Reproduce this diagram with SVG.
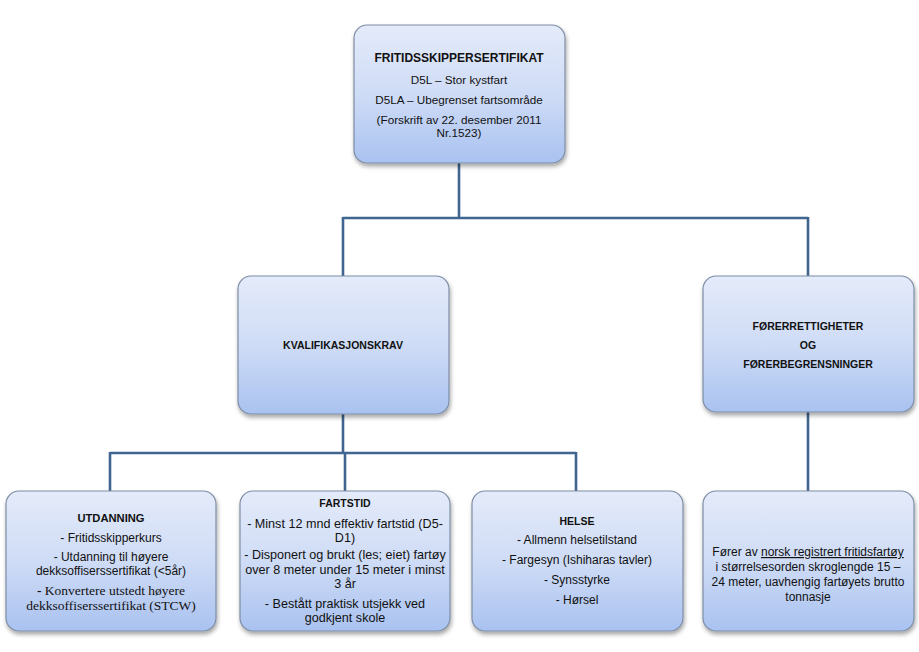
<svg xmlns="http://www.w3.org/2000/svg" width="919" height="652" viewBox="0 0 919 652">
<style>
.box{fill:url(#g);stroke:#7d8da6;stroke-width:1.2;filter:url(#sh)}
.t{font-family:"Liberation Sans",Arial,sans-serif;font-size:12px;fill:#111;text-anchor:middle}
.b{font-weight:bold;font-size:10.5px}
.s{font-family:"Liberation Serif","Times New Roman",serif;font-size:13.5px}
.f{font-size:12.6px}
.c{fill:none;stroke:#3f6590;stroke-width:2.6}
</style>
<defs>
<linearGradient id="g" x1="0" y1="0" x2="0" y2="1">
<stop offset="0" stop-color="#e4ebfa"/>
<stop offset="0.5" stop-color="#cfdcf6"/>
<stop offset="1" stop-color="#a9c2f0"/>
</linearGradient>
<filter id="sh" x="-10%" y="-10%" width="125%" height="130%">
<feDropShadow dx="1" dy="3" stdDeviation="2.2" flood-color="#000" flood-opacity="0.35"/>
</filter>
</defs>
<g id="connectors">
<path class="c" d="M459 163 V218 M343 218 H808 M343 217 V276 M808 217 V276"/>
<path class="c" d="M343 414 V453 M110 453 H576 M110 452 V491 M345 452 V491 M576 452 V491"/>
<path class="c" d="M808 412 V491"/>
</g>
<g id="top">
<rect class="box" x="354" y="25" width="211" height="138" rx="13"/>
<text class="t b" x="459" y="62" style="font-size:12px">FRITIDSSKIPPERSERTIFIKAT</text>
<text class="t" x="459" y="84" style="font-size:11.7px">D5L – Stor kystfart</text>
<text class="t" x="459" y="104" style="font-size:11.7px">D5LA – Ubegrenset fartsområde</text>
<text class="t" x="459" y="124" style="font-size:11.7px">(Forskrift av 22. desember 2011</text>
<text class="t" x="459" y="137" style="font-size:11.7px">Nr.1523)</text>
</g>
<g id="kval">
<rect class="box" x="238" y="276" width="211" height="138" rx="13"/>
<text class="t b" x="343" y="349">KVALIFIKASJONSKRAV</text>
</g>
<g id="forer">
<rect class="box" x="703" y="276" width="211" height="136" rx="13"/>
<text class="t b" x="808" y="330">FØRERRETTIGHETER</text>
<text class="t b" x="808" y="349">OG</text>
<text class="t b" x="808" y="368">FØRERBEGRENSNINGER</text>
</g>
<g id="utdanning">
<rect class="box" x="6" y="491" width="210" height="140" rx="13"/>
<text class="t b" x="111" y="522" style="font-size:11.2px">UTDANNING</text>
<text class="t" x="111" y="542">- Fritidsskipperkurs</text>
<text class="t" x="111" y="561">- Utdanning til høyere</text>
<text class="t" x="111" y="575">dekksoffiserssertifikat (&lt;5år)</text>
<text class="t s" x="111" y="595"><tspan font-weight="bold">-</tspan> Konvertere utstedt høyere</text>
<text class="t s" x="111" y="610">dekksoffiserssertifikat (STCW)</text>
</g>
<g id="fartstid">
<rect class="box" x="240" y="491" width="210" height="140" rx="13"/>
<text class="t b" x="345" y="507">FARTSTID</text>
<text class="t f" x="345" y="528">-  Minst 12 mnd effektiv fartstid (D5-</text>
<text class="t f" x="345" y="542">D1)</text>
<text class="t f" x="345" y="559">- Disponert og brukt (les; eiet) fartøy</text>
<text class="t f" x="345" y="574">over 8 meter under 15 meter i minst</text>
<text class="t f" x="345" y="588">3 år</text>
<text class="t f" x="345" y="608">- Bestått praktisk utsjekk ved</text>
<text class="t f" x="345" y="622">godkjent skole</text>
</g>
<g id="helse">
<rect class="box" x="472" y="491" width="211" height="140" rx="13"/>
<text class="t b" x="577" y="525">HELSE</text>
<text class="t" x="577" y="544">- Allmenn helsetilstand</text>
<text class="t" x="577" y="564">- Fargesyn (Ishiharas tavler)</text>
<text class="t" x="577" y="584">- Synsstyrke</text>
<text class="t" x="577" y="604">- Hørsel</text>
</g>
<g id="forer-detalj">
<rect class="box" x="703" y="491" width="211" height="140" rx="13"/>
<text class="t" x="808" y="556">Fører av <tspan text-decoration="underline">norsk registrert fritidsfartøy</tspan></text>
<text class="t" x="808" y="571">i størrelsesorden skroglengde 15 –</text>
<text class="t" x="808" y="586">24 meter, uavhengig fartøyets brutto</text>
<text class="t" x="808" y="601">tonnasje</text>
</g>
</svg>
